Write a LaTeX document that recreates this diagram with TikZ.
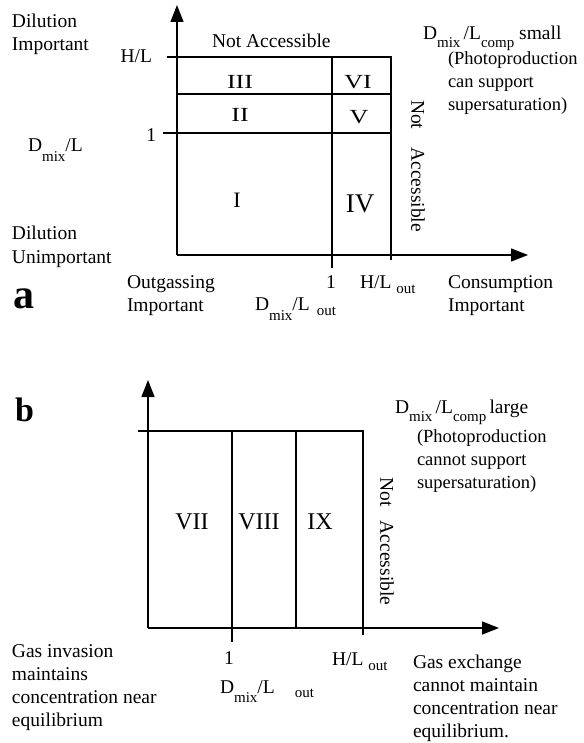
\documentclass[tikz,border=0pt]{standalone}
\usepackage{fontspec}
\setmainfont{Liberation Serif}
\usetikzlibrary{arrows.meta}

% lowered small index text, e.g. D with "mix" below the line
\newcommand\lo[2][8pt]{\raisebox{-#1}{\fontsize{15}{15}\selectfont #2}}
% left-aligned block of lines; its baseline is that of the first line
\newcommand\mlines[1]{\vtop{\baselineskip=23pt\halign{##\hfil\cr#1\crcr}}}

\begin{document}
\begin{tikzpicture}[x=1pt,y=-1pt,
  font=\fontsize{19.5}{23}\selectfont,
  every node/.style={inner sep=0pt,outer sep=0pt},
  thinln/.style={line width=1.1pt},
  thickln/.style={line width=2.6pt,line join=miter},
  axisln/.style={line width=1.4pt,-{Triangle[length=17pt,width=13pt]}},
  lbl/.style={anchor=base west},
  note/.style={anchor=base west,font=\fontsize{18.5}{23}\selectfont},
  numsm/.style={font=\fontsize{20}{20}\selectfont},
  numb/.style={font=\fontsize{24}{24}\selectfont},
  panel/.style={anchor=base west,font=\fontsize{#1}{#1}\selectfont\bfseries}]

\useasboundingbox (0,0) rectangle (583,743);

% ---------------- panel a ----------------
\coordinate (aO) at (177,255);
\coordinate (aYtip) at (177,5);
\coordinate (aXtip) at (528,255);
\coordinate (aHL) at (167,57);
\coordinate (aTR) at (391,57);
\coordinate (aBR) at (391,260);
\coordinate (a2L) at (177,94);
\coordinate (a2R) at (391,94);
\coordinate (a1L) at (163,133);
\coordinate (a1R) at (391,133);
\coordinate (aVt) at (332,57);
\coordinate (aVb) at (332,268);

\draw[axisln] (aO) -- (aYtip);
\draw[axisln] (aO) -- (aXtip);
\draw[thinln] (a2L) -- (a2R);
\draw[thinln] (a1L) -- (a1R);
\draw[thinln] (aVt) -- (aVb);
\draw[thickln] (aHL) -- (aTR) -- (aBR);

\node[lbl] (dilI) at (12,28) {\mlines{Dilution\cr Important}};
\node[anchor=base east] (hl) at (152,63) {H/L};
\node[lbl] (na) at (212,48) {Not Accessible};
\node[lbl] (dmixy) at (28,152) {D\lo[10pt]{mix}/L};
\node[anchor=base east] (one1) at (156,142) {1};

\node[numsm] (r3) at (240,82) {\scalebox{1.3}[1]{III}};
\node[numsm] (r2) at (240,115) {\scalebox{1.3}[1]{II}};
\node[numsm] (r6) at (358,82) {\scalebox{1.3}[1]{VI}};
\node[numsm] (r5) at (359,117) {\scalebox{1.3}[1]{V}};
\node[font=\fontsize{22}{22}\selectfont] (r1) at (237,200) {I};
\node[font=\fontsize{27}{27}\selectfont] (r4) at (360,203.5) {IV};

\node[rotate=-90] (nacca) at (418,166) {Not\hspace{18pt}Accessible};

\node[lbl] (dsmall) at (423,40) {D\lo{mix}\,/L\lo{comp} small};
\node[note] (photoA) at (448,65)
  {\mlines{(Photoproduction\cr can support\cr supersaturation)}};

\node[lbl] (dilU) at (12,240) {\mlines{Dilution\cr Unimportant}};
\node[lbl] (outg) at (127,288) {\mlines{Outgassing\cr Important}};
\node[anchor=base] (one2) at (331,288) {1};
\node[lbl] (hlout) at (360,288) {H/L\hspace{5pt}\lo[5pt]{out}};
\node[lbl] (cons) at (448,288) {\mlines{Consumption\cr Important}};
\node[lbl] (dmixx) at (255,310) {D\lo[10pt]{mix}/L\hspace{7pt}\lo[5pt]{out}};
\node[panel=42] (pa) at (13,308) {a};

% ---------------- panel b ----------------
\coordinate (bO) at (148,628);
\coordinate (bYtip) at (148,380);
\coordinate (bXtip) at (499,628);
\coordinate (bTL) at (138,431);
\coordinate (bTR) at (363,431);
\coordinate (bBR) at (363,635);
\coordinate (b1t) at (232,431);
\coordinate (b1b) at (232,642);
\coordinate (b2t) at (296,431);
\coordinate (b2b) at (296,628);

\draw[axisln] (bO) -- (bYtip);
\draw[axisln] (bO) -- (bXtip);
\draw[thinln] (b1t) -- (b1b);
\draw[thinln] (b2t) -- (b2b);
\draw[thickln] (bTL) -- (bTR) -- (bBR);

\node[panel=34] (pb) at (15,421) {b};
\node[lbl] (dlarge) at (395,413) {D\lo{mix}\,/L\lo{comp}\,large};
\node[note] (photoB) at (417,442)
  {\mlines{(Photoproduction\cr cannot support\cr supersaturation)}};

\node[numb] (r7) at (192,522) {VII};
\node[numb] (r8) at (259,522) {VIII};
\node[numb] (r9) at (320,522) {IX};

\node[rotate=-90] (naccb) at (387,541.5) {Not\hspace{14pt}Accessible};

\node[lbl] (gasinv) at (12,657)
  {\mlines{Gas invasion\cr maintains\cr concentration near\cr equilibrium}};
\node[anchor=base] (one3) at (229,664) {1};
\node[lbl] (dmixb) at (220,693) {D\lo[9pt]{mix}/L\hspace{20pt}\lo[4pt]{out}};
\node[lbl] (hloutb) at (332,665) {H/L\hspace{5pt}\lo[5pt]{out}};
\node[lbl] (gasex) at (413,668)
  {\mlines{Gas exchange\cr cannot maintain\cr concentration near\cr equilibrium.}};

\end{tikzpicture}
\end{document}
